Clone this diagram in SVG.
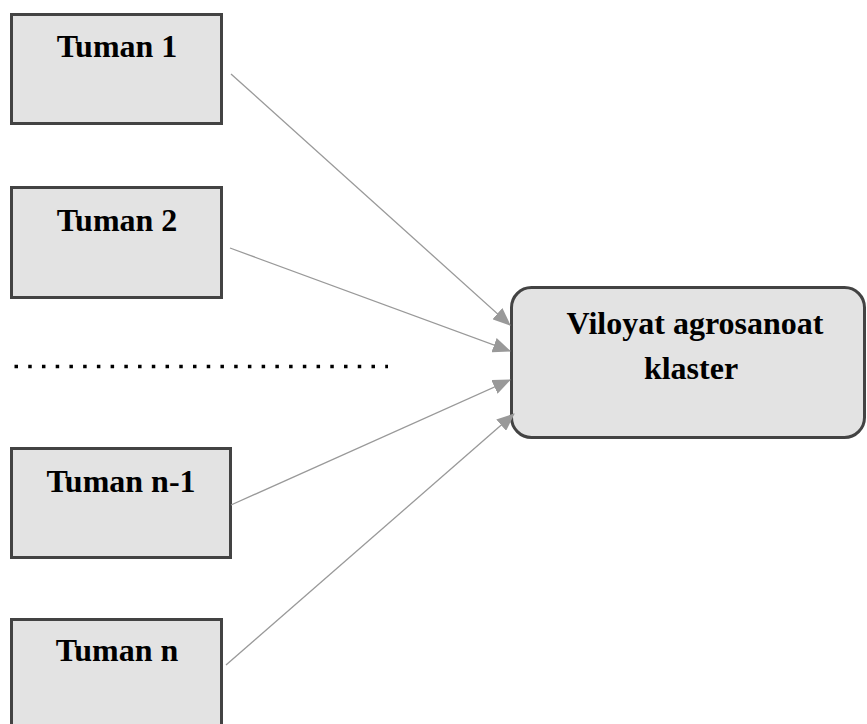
<svg xmlns="http://www.w3.org/2000/svg" width="867" height="724" viewBox="0 0 867 724">
<style>
.box{fill:#e3e3e3;stroke:#434343;stroke-width:3}
.lbl{font-family:"Liberation Serif","Times New Roman",serif;font-weight:bold;font-size:32px;fill:#000;text-anchor:middle}
.con{stroke:#999999;stroke-width:1.3;fill:none;marker-end:url(#arr)}
</style>
<defs>
<marker id="arr" markerWidth="18" markerHeight="15" refX="17" refY="7.5" orient="auto" markerUnits="userSpaceOnUse">
<path d="M0,0 L18,7.5 L0,15 Z" fill="#999999"/>
</marker>
</defs>
<rect width="867" height="724" fill="#ffffff"/>
<g id="tuman1">
<rect class="box" x="11.5" y="14.5" width="210" height="109"/>
<text class="lbl" x="117" y="57">Tuman 1</text>
</g>
<g id="tuman2">
<rect class="box" x="11.5" y="187.5" width="210" height="110"/>
<text class="lbl" x="117" y="231">Tuman 2</text>
</g>
<g id="dots">
<line x1="14.5" y1="366.5" x2="388" y2="366.5" stroke="#000" stroke-width="3.5" stroke-dasharray="3.5 10.23"/>
</g>
<g id="tuman_n1">
<rect class="box" x="11.5" y="448.5" width="219" height="109"/>
<text class="lbl" x="121" y="492">Tuman n-1</text>
</g>
<g id="tuman_n">
<rect class="box" x="11.5" y="619.5" width="210" height="110"/>
<text class="lbl" x="117" y="661">Tuman n</text>
</g>
<g id="klaster">
<rect class="box" x="511.5" y="287.5" width="353" height="150" rx="20" ry="20"/>
<text class="lbl" x="695" y="334">Viloyat agrosanoat</text>
<text class="lbl" x="691" y="379">klaster</text>
</g>
<g id="connectors">
<line class="con" x1="231" y1="74" x2="510" y2="325"/>
<line class="con" x1="230" y1="248" x2="510" y2="351"/>
<line class="con" x1="231" y1="505" x2="510" y2="380"/>
<line class="con" x1="226" y1="665" x2="514" y2="414"/>
</g>
</svg>
